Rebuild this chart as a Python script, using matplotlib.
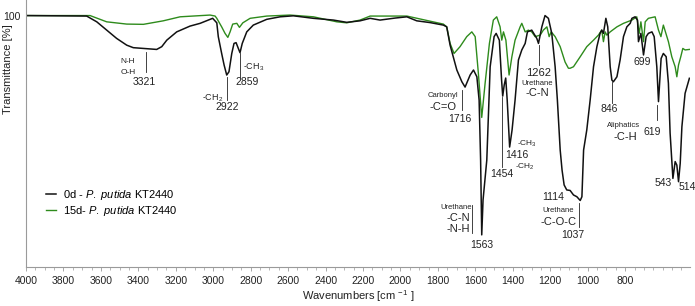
import matplotlib
matplotlib.use("Agg")
import matplotlib.pyplot as plt
from matplotlib.ticker import MultipleLocator, FixedLocator

plt.rcParams['font.family'] = ['Liberation Sans', 'DejaVu Sans']
plt.rcParams['mathtext.fontset'] = 'custom'
plt.rcParams['mathtext.rm'] = 'Liberation Sans'
plt.rcParams['mathtext.it'] = 'Liberation Sans:italic'

# 0d - P. putida KT2440 (black)
wn_0d = [4000, 3676, 3622, 3569, 3516, 3462, 3427, 3355, 3302, 3275,
         3248, 3195, 3124, 3070, 3026, 3003, 2981, 2973, 2955, 2942,
         2928, 2916, 2901, 2889, 2878, 2866, 2857, 2845, 2821, 2786,
         2714, 2643, 2572, 2465, 2358, 2287, 2216, 2162, 2109, 2029,
         1966, 1913, 1842, 1771, 1753, 1735, 1699, 1672, 1655, 1628,
         1610, 1592, 1580, 1572, 1566, 1559, 1539, 1521, 1500, 1489,
         1472, 1460, 1454, 1446, 1438, 1430, 1417, 1404, 1388, 1370,
         1352, 1334, 1322, 1299, 1272, 1263, 1245, 1228, 1210, 1192,
         1174, 1162, 1147, 1137, 1126, 1112, 1094, 1076, 1058, 1040,
         1031, 1022, 1005, 987, 969, 951, 934, 925, 916, 903,
         893, 880, 871, 863, 844, 827, 809, 791, 773, 764,
         747, 734, 729, 716, 702, 688, 676, 657, 645, 631,
         622, 608, 596, 581, 569, 560, 545, 533, 524, 515,
         506, 497, 480, 457]
tr_0d = [100.2, 100, 97.7, 94.4, 91.1, 88.4, 87.4, 87.0, 86.7, 87.8,
         90.4, 93.7, 96.0, 97.1, 98.4, 99.1, 97.3, 91.8, 85.1, 80.5,
         76.5, 77.8, 85.1, 89.1, 89.4, 87.1, 85.4, 89.1, 93.7, 96.4,
         98.7, 99.7, 100.1, 99.1, 98.4, 97.5, 98.1, 99.1, 98.4, 99.2,
         99.7, 98.1, 97.4, 96.4, 95.7, 88.4, 78.5, 73.8, 71.7, 76.5,
         78.5, 75.8, 66.5, 42.6, 12.8, 26.7, 42.6, 79.8, 91.8, 93.1,
         90.4, 74.5, 68.1, 72.5, 75.3, 66.5, 47.8, 54.6, 66.5, 82.5,
         86.5, 89.1, 93.7, 94.4, 91.1, 89.1, 95.7, 100.2, 99.1, 93.1,
         79.8, 66.5, 46.6, 38.6, 32.7, 30.7, 30.5, 28.7, 28.0, 26.5,
         28.0, 46.6, 54.6, 66.5, 79.8, 87.8, 93.1, 94.4, 93.1, 99.1,
         95.7, 79.8, 74.5, 73.8, 75.8, 82.5, 91.8, 95.7, 97.1, 99.1,
         99.7, 98.4, 89.8, 93.1, 84.5, 91.8, 93.1, 93.7, 91.8, 79.8,
         65.9, 83.1, 85.1, 83.8, 73.2, 53.4, 35.3, 42.0, 40.6, 34.0,
         41.3, 55.9, 69.2, 75.2]

# 15d - P. putida KT2440 (green)
wn_15d = [4000, 3658, 3569, 3462, 3373, 3267, 3177, 3017, 2990, 2981,
          2955, 2937, 2922, 2910, 2896, 2874, 2860, 2842, 2803, 2714,
          2590, 2465, 2340, 2287, 2216, 2162, 1966, 1771, 1753, 1735,
          1714, 1682, 1646, 1619, 1601, 1584, 1566, 1548, 1525, 1504,
          1486, 1468, 1459, 1450, 1437, 1420, 1405, 1388, 1361, 1352,
          1334, 1317, 1299, 1281, 1254, 1237, 1218, 1206, 1195, 1174,
          1147, 1121, 1103, 1094, 1076, 1040, 1005, 969, 943, 925,
          916, 907, 898, 880, 844, 809, 764, 738, 725, 716,
          702, 693, 676, 640, 622, 609, 596, 569, 551, 533,
          524, 515, 503, 492, 480, 457]
tr_15d = [100.2, 100.2, 97.7, 96.8, 96.7, 98.1, 99.7, 100.4, 100, 99.1,
          95.7, 93.1, 91.5, 93.7, 96.8, 97.1, 95.5, 97.3, 99.1, 100,
          100.4, 99.7, 97.7, 97.3, 98.4, 100, 100, 96.8, 95.7, 89.1,
          85.1, 87.8, 91.8, 93.7, 91.8, 77.2, 59.6, 73.2, 89.1, 98.4,
          99.7, 95.7, 90.4, 93.7, 90.4, 76.5, 83.8, 90.4, 95.7, 97.1,
          93.7, 94.4, 93.7, 91.8, 92.4, 94.4, 95.7, 91.8, 93.7, 91.8,
          87.8, 81.7, 79.2, 79.2, 79.8, 83.8, 87.8, 90.4, 92.4, 94.4,
          89.8, 93.7, 92.4, 93.7, 95.7, 97.1, 98.4, 99.7, 93.1, 97.7,
          89.8, 97.7, 99.1, 99.7, 94.4, 91.8, 96.4, 89.8, 83.8, 79.8,
          75.8, 80.5, 83.8, 87.1, 86.5, 86.7]

# peak annotations: text, wavenumber, transmittance, fontsize
labels = [
    ("N-H", 3455, 81.7, 6), ("O-H", 3455, 77.7, 6), ("3321", 3370, 73.7, 7.5),
    ("-CH$_\\mathregular{2}$", 3001, 67.3, 6.5), ("2922", 2926, 63.7, 7.5),
    ("-CH$_\\mathregular{3}$", 2782, 79.7, 6.5), ("2859", 2819, 73.7, 7.5),
    ("Carbonyl", 1772, 68.5, 5.5), ("-C=O", 1772, 63.7, 8), ("1716", 1682, 59.0, 7.5),
    ("1262", 1260, 77.3, 8), ("Urethane", 1270, 73.3, 5.5), ("-C-N", 1270, 69.3, 8),
    ("-CH$_\\mathregular{3}$", 1324, 49.0, 6), ("1416", 1377, 44.6, 7.5),
    ("1454", 1457, 37.0, 7.5), ("-CH$_\\mathregular{2}$", 1334, 39.8, 6),
    ("Urethane", 1703, 23.9, 5.5), ("-C-N", 1690, 19.5, 8), ("-N-H", 1690, 15.1, 8),
    ("1563", 1564, 8.8, 7.5), ("1114", 1185, 27.9, 7.5),
    ("Urethane", 1158, 22.7, 5.5), ("-C-O-C", 1155, 18.1, 8), ("1037", 1078, 12.8, 7.5),
    ("846", 886, 63.0, 7.5), ("699", 709, 81.7, 7.5), ("619", 656, 53.8, 7.5),
    ("Aliphatics", 811, 56.2, 5.5), ("-C-H", 800, 51.8, 8),
    ("543", 597, 33.5, 7.5), ("514", 469, 31.9, 7.5),
]
# label guide lines: wavenumber, top, bottom
guides = [(3361, 85.7, 77.7), (2926, 75.7, 66.5), (2857, 85.3, 75.7),
          (1671, 70.5, 62.5), (1260, 88.4, 80.5), (1457, 67.7, 39.8),
          (1619, 24.7, 13.5), (1046, 25.5, 15.9), (870, 73.7, 65.3),
          (629, 64.5, 58.6)]

fig = plt.figure(figsize=(6.95, 3.06), dpi=100)
ax = fig.add_axes([0.0374, 0.1275, 0.9556, 0.8725])

ax.plot(wn_15d, tr_15d, color='#2e8b1c', lw=1.0, label='15d- $\\it{P.\\ putida}$ KT2440')
ax.plot(wn_0d, tr_0d, color='#111111', lw=1.1, label='0d - $\\it{P.\\ putida}$ KT2440')

for w, t1, t2 in guides:
    ax.plot([w, w], [t1, t2], color='#222222', lw=0.6)
for txt, w, t, fs in labels:
    ax.text(w, t, txt, fontsize=fs, ha='center', va='center', color='#222222')

ax.set_xlim(4000, 453)
ax.set_ylim(0, 106.4)
ax.xaxis.set_major_locator(FixedLocator(range(800, 4001, 200)))
ax.xaxis.set_minor_locator(MultipleLocator(50))
ax.set_yticks([100])
for s in ['top', 'right']:
    ax.spines[s].set_visible(False)
for s in ['left', 'bottom']:
    ax.spines[s].set_color('#9a9a9a')
    ax.spines[s].set_linewidth(0.8)
ax.tick_params(axis='both', which='major', labelsize=7.5, colors='#9a9a9a',
               labelcolor='#222222', length=3, width=0.6)
ax.tick_params(axis='x', which='minor', colors='#9a9a9a', length=2, width=0.5)
ax.tick_params(axis='y', length=0, pad=4)

ax.set_xlabel('Wavenumbers [cm $^{\\mathregular{-1}}$ ]', fontsize=8, color='#222222')
ax.xaxis.set_label_coords(0.5, -0.08)
ax.set_ylabel('Transmittance [%]', fontsize=8, color='#222222')
ax.yaxis.set_label_coords(-0.019, 0.74)

h, l = ax.get_legend_handles_labels()
ax.legend(h[::-1], l[::-1], loc='upper left', bbox_to_anchor=(0.015, 0.335),
          frameon=False, fontsize=8, handlelength=0.9, handletextpad=0.6,
          labelspacing=0.25)

fig.savefig('out.png', dpi=100)
